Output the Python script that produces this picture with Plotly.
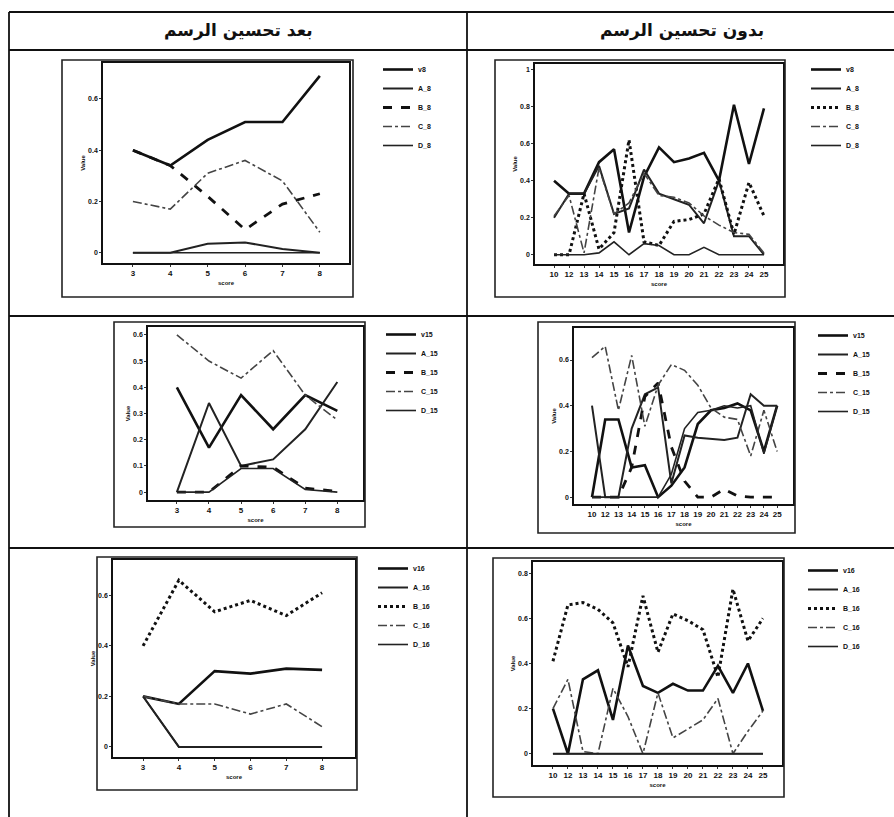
import plotly.graph_objects as go

W, H = 894, 817

# ---------------- data ----------------
x_after = [3, 4, 5, 6, 7, 8]
cats_before = ["10", "12", "13", "14", "15", "16", "17", "18", "19", "20", "21", "22", "23", "24", "25"]

header_after = "بعد تحسين الرسم"
header_before = "بدون تحسين الرسم"

names8 = ["v8", "A_8", "B_8", "C_8", "D_8"]
names15 = ["v15", "A_15", "B_15", "C_15", "D_15"]
names16 = ["v16", "A_16", "B_16", "C_16", "D_16"]

# row 1, after improvement
r1_after = {
    "v8":  [0.40, 0.34, 0.44, 0.51, 0.51, 0.69],
    "A_8": [0.00, 0.00, 0.035, 0.04, 0.015, 0.00],
    "B_8": [0.40, 0.34, 0.22, 0.09, 0.19, 0.23],
    "C_8": [0.20, 0.17, 0.31, 0.36, 0.28, 0.08],
    "D_8": [0.00, 0.00, 0.00, 0.00, 0.00, 0.00],
}
# row 1, without improvement
r1_before = {
    "v8":  [0.40, 0.33, 0.33, 0.50, 0.57, 0.12, 0.42, 0.58, 0.50, 0.52, 0.55, 0.40, 0.81, 0.49, 0.79],
    "A_8": [0.20, 0.33, 0.33, 0.48, 0.22, 0.25, 0.46, 0.33, 0.30, 0.27, 0.17, 0.40, 0.10, 0.10, 0.00],
    "B_8": [0.00, 0.00, 0.33, 0.03, 0.12, 0.62, 0.07, 0.05, 0.18, 0.19, 0.22, 0.41, 0.11, 0.39, 0.21],
    "C_8": [0.21, 0.32, 0.01, 0.47, 0.22, 0.28, 0.44, 0.32, 0.31, 0.28, 0.21, 0.16, 0.12, 0.11, 0.01],
    "D_8": [0.00, 0.00, 0.00, 0.01, 0.07, 0.00, 0.06, 0.05, 0.00, 0.00, 0.04, 0.00, 0.00, 0.00, 0.00],
}
# row 2, after improvement
r2_after = {
    "v15":  [0.40, 0.17, 0.37, 0.24, 0.37, 0.31],
    "A_15": [0.00, 0.34, 0.10, 0.125, 0.24, 0.42],
    "B_15": [0.00, 0.00, 0.10, 0.095, 0.015, 0.003],
    "C_15": [0.60, 0.50, 0.435, 0.54, 0.37, 0.275],
    "D_15": [0.00, 0.00, 0.09, 0.09, 0.01, 0.00],
}
# row 2, without improvement
r2_before = {
    "v15":  [0.00, 0.34, 0.34, 0.13, 0.14, 0.00, 0.05, 0.13, 0.32, 0.38, 0.39, 0.41, 0.38, 0.20, 0.40],
    "A_15": [0.40, 0.00, 0.00, 0.30, 0.45, 0.48, 0.06, 0.27, 0.26, 0.255, 0.25, 0.26, 0.45, 0.40, 0.40],
    "B_15": [0.00, 0.00, 0.00, 0.13, 0.44, 0.50, 0.22, 0.07, 0.00, 0.00, 0.035, 0.005, 0.00, 0.00, 0.00],
    "C_15": [0.61, 0.66, 0.38, 0.62, 0.31, 0.49, 0.58, 0.555, 0.49, 0.39, 0.35, 0.34, 0.18, 0.38, 0.20],
    "D_15": [0.00, 0.00, 0.00, 0.00, 0.00, 0.00, 0.10, 0.30, 0.37, 0.38, 0.40, 0.39, 0.40, 0.19, 0.40],
}
# row 3, after improvement
r3_after = {
    "v16":  [0.20, 0.17, 0.30, 0.29, 0.31, 0.305],
    "A_16": [0.20, 0.00, 0.00, 0.00, 0.00, 0.00],
    "B_16": [0.40, 0.66, 0.535, 0.58, 0.52, 0.61],
    "C_16": [0.20, 0.17, 0.17, 0.13, 0.17, 0.08],
    "D_16": [0.20, 0.00, 0.00, 0.00, 0.00, 0.00],
}
# row 3, without improvement
r3_before = {
    "v16":  [0.20, 0.00, 0.33, 0.37, 0.15, 0.48, 0.30, 0.27, 0.31, 0.28, 0.28, 0.39, 0.27, 0.40, 0.19],
    "A_16": [0.00, 0.00, 0.00, 0.00, 0.00, 0.00, 0.00, 0.00, 0.00, 0.00, 0.00, 0.00, 0.00, 0.00, 0.00],
    "B_16": [0.41, 0.66, 0.67, 0.64, 0.58, 0.385, 0.70, 0.45, 0.62, 0.59, 0.55, 0.34, 0.73, 0.50, 0.60],
    "C_16": [0.20, 0.33, 0.01, 0.00, 0.29, 0.165, 0.00, 0.27, 0.07, 0.11, 0.15, 0.245, 0.00, 0.10, 0.19],
    "D_16": [0.00, 0.00, 0.00, 0.00, 0.00, 0.00, 0.00, 0.00, 0.00, 0.00, 0.00, 0.00, 0.00, 0.00, 0.00],
}

x_title = "score"
y_title = "Value"

# ---------------- styles ----------------
STYLE = {
    0: dict(color="#111", width=2.6, dash="solid"),
    1: dict(color="#222", width=2.0, dash="solid"),
    2: dict(color="#111", width=2.8, dash="dash"),
    3: dict(color="#444", width=1.6, dash="dashdot"),
    4: dict(color="#222", width=1.6, dash="solid"),
}
STYLE_DOT = dict(color="#111", width=3.0, dash="dot")

FONT = "Liberation Sans, Arial, sans-serif"


def px(x):
    return x / W


def py(y):
    return 1 - y / H


# panel geometry in pixels: plot box, outer frame, legend position, axis ranges
panels = [
    dict(data=r1_after, names=names8, x=x_after, plot=(103, 63, 349, 263), frame=(62, 60, 353, 297),
         leg=(378, 55), xr=[2.2, 8.78], yr=[-0.04, 0.74], yt=[0, 0.2, 0.4, 0.6], bstyle="dash"),
    dict(data=r1_before, names=names8, x=cats_before, plot=(535, 64, 783, 264), frame=(495, 60, 785, 297),
         leg=(806, 55), xr=[-1.27, 15.27], yr=[-0.05, 1.03], yt=[0, 0.2, 0.4, 0.6, 0.8, 1], bstyle="dot"),
    dict(data=r2_after, names=names15, x=x_after, plot=(148, 327, 363, 500), frame=(114, 322, 365, 527),
         leg=(381, 320), xr=[2.1, 8.8], yr=[-0.03, 0.63], yt=[0, 0.1, 0.2, 0.3, 0.4, 0.5, 0.6], bstyle="dash"),
    dict(data=r2_before, names=names15, x=cats_before, plot=(574, 328, 793, 504), frame=(538, 322, 795, 533),
         leg=(813, 321), xr=[-1.36, 15.2], yr=[-0.03, 0.74], yt=[0, 0.2, 0.4, 0.6], bstyle="dash"),
    dict(data=r3_after, names=names16, x=x_after, plot=(113, 560, 355, 757), frame=(97, 557, 357, 790),
         leg=(373, 554), xr=[2.16, 8.92], yr=[-0.04, 0.74], yt=[0, 0.2, 0.4, 0.6], bstyle="dot"),
    dict(data=r3_before, names=names16, x=cats_before, plot=(533, 562, 782, 765), frame=(493, 558, 784, 797),
         leg=(803, 556), xr=[-1.33, 15.27], yr=[-0.05, 0.85], yt=[0, 0.2, 0.4, 0.6, 0.8], bstyle="dot"),
]

fig = go.Figure()
layout = dict(
    width=W, height=H, margin=dict(l=0, r=0, t=0, b=0),
    paper_bgcolor="white", plot_bgcolor="white", showlegend=True,
    font=dict(family=FONT, color="#111"),
)
shapes = []
annotations = []

for k, p in enumerate(panels):
    sfx = "" if k == 0 else str(k + 1)
    xa, ya = "x" + sfx, "y" + sfx
    lg = "legend" + sfx
    for i, nm in enumerate(p["names"]):
        st = dict(STYLE[i])
        if i == 2:
            st = dict(STYLE_DOT) if p["bstyle"] == "dot" else dict(STYLE[2])
        fig.add_trace(go.Scatter(
            x=p["x"], y=p["data"][nm], name=nm, mode="lines",
            line=dict(color=st["color"], width=st["width"], dash=st["dash"]),
            xaxis=xa, yaxis=ya, legend=lg, showlegend=True,
        ))
    x0, y0, x1, y1 = p["plot"]
    is_cat = isinstance(p["x"][0], str)
    xax = dict(
        domain=[px(x0), px(x1)], anchor=ya, range=p["xr"],
        showline=True, linecolor="#111", linewidth=1.6, mirror=True,
        showgrid=False, zeroline=False, ticks="outside", ticklen=2, tickcolor="#333",
        tickfont=dict(size=8, family=FONT, weight="bold", color="#111"), tickangle=0,
        title=dict(text=x_title, font=dict(size=6, family=FONT, weight="bold", color="#111"), standoff=3),
    )
    if is_cat:
        xax.update(type="category", tickmode="array", tickvals=p["x"], ticktext=p["x"])
    else:
        xax.update(tickmode="array", tickvals=p["x"])
    yax = dict(
        domain=[py(y1), py(y0)], anchor=xa, range=p["yr"],
        showline=True, linecolor="#111", linewidth=1.6, mirror=True,
        showgrid=False, zeroline=False, ticks="outside", ticklen=2, tickcolor="#333",
        tickmode="array", tickvals=p["yt"], ticktext=[("%g" % v) for v in p["yt"]],
        tickfont=dict(size=7, family=FONT, weight="bold", color="#111"),
        title=dict(text=y_title, font=dict(size=6, family=FONT, weight="bold", color="#111"), standoff=2),
    )
    layout["xaxis" + sfx] = xax
    layout["yaxis" + sfx] = yax
    layout[lg] = dict(
        x=px(p["leg"][0]), y=py(p["leg"][1]), xanchor="left", yanchor="top",
        bgcolor="rgba(0,0,0,0)", borderwidth=0, itemwidth=30, tracegroupgap=0,
        font=dict(size=7, family=FONT, weight="bold", color="#111"),
    )
    fx0, fy0, fx1, fy1 = p["frame"]
    shapes.append(dict(type="rect", xref="paper", yref="paper",
                       x0=px(fx0), x1=px(fx1), y0=py(fy1), y1=py(fy0),
                       line=dict(color="#222", width=1.6)))


# table lines
def hline(y, xa=9, xb=894, w=1.8):
    shapes.append(dict(type="line", xref="paper", yref="paper", x0=px(xa), x1=px(xb),
                       y0=py(y), y1=py(y), line=dict(color="#111", width=w)))


def vline(x, ya=12, yb=817, w=1.8):
    shapes.append(dict(type="line", xref="paper", yref="paper", x0=px(x), x1=px(x),
                       y0=py(ya), y1=py(yb), line=dict(color="#111", width=w)))


hline(12)
hline(50)
hline(316)
hline(548)
vline(9)
vline(467)

for txt, cx in ((header_after, 238), (header_before, 682)):
    annotations.append(dict(text=txt, x=px(cx), y=py(31), xref="paper", yref="paper",
                            xanchor="center", yanchor="middle", showarrow=False,
                            font=dict(size=17, family="DejaVu Sans", weight="bold", color="#111")))

layout["shapes"] = shapes
layout["annotations"] = annotations
fig.update_layout(**layout)
fig.write_html("out.html", config={"displayModeBar": False},
               post_script="document.body.style.margin='0';document.body.style.padding='0';")
